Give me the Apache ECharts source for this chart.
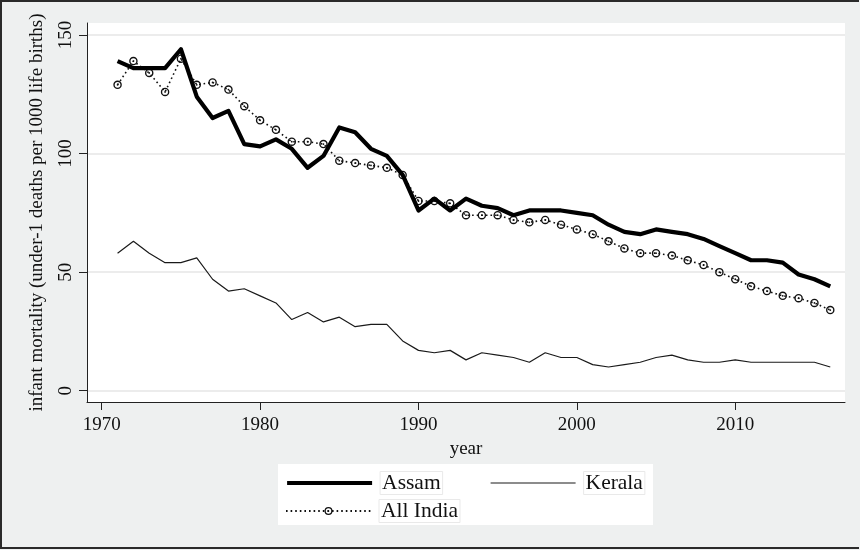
<!DOCTYPE html>
<html>
<head>
<meta charset="utf-8">
<script src="https://cdn.jsdelivr.net/npm/echarts@6/dist/echarts.min.js"></script>
<style>
  html, body { margin: 0; padding: 0; background: #eef0f0; }
  #chart { width: 860px; height: 550px; }
</style>
</head>
<body>
<div id="chart"></div>
<script>
// Infant mortality (deaths under age 1 per 1000 live births), 1971-2016
const years = [1971, 1972, 1973, 1974, 1975, 1976, 1977, 1978, 1979, 1980,
               1981, 1982, 1983, 1984, 1985, 1986, 1987, 1988, 1989, 1990,
               1991, 1992, 1993, 1994, 1995, 1996, 1997, 1998, 1999, 2000,
               2001, 2002, 2003, 2004, 2005, 2006, 2007, 2008, 2009, 2010,
               2011, 2012, 2013, 2014, 2015, 2016];

const assam = [139, 136, 136, 136, 144, 124, 115, 118, 104, 103,
               106, 102, 94, 99, 111, 109, 102, 99, 91, 76,
               81, 76, 81, 78, 77, 74, 76, 76, 76, 75,
               74, 70, 67, 66, 68, 67, 66, 64, 61, 58,
               55, 55, 54, 49, 47, 44];

const kerala = [58, 63, 58, 54, 54, 56, 47, 42, 43, 40,
                37, 30, 33, 29, 31, 27, 28, 28, 21, 17,
                16, 17, 13, 16, 15, 14, 12, 16, 14, 14,
                11, 10, 11, 12, 14, 15, 13, 12, 12, 13,
                12, 12, 12, 12, 12, 10];

const allIndia = [129, 139, 134, 126, 140, 129, 130, 127, 120, 114,
                  110, 105, 105, 104, 97, 96, 95, 94, 91, 80,
                  80, 79, 74, 74, 74, 72, 71, 72, 70, 68,
                  66, 63, 60, 58, 58, 57, 55, 53, 50, 47,
                  44, 42, 40, 39, 37, 34];

const xTicks = [1970, 1980, 1990, 2000, 2010];
const yTicks = [0, 50, 100, 150];

const serif = '"Liberation Serif", "DejaVu Serif", serif';
const pairs = vals => years.map((y, i) => [y, vals[i]]);

// hollow ring with a small centre dot
const ringSymbol = 'path://M10,0 A10,10 0 1,1 10,20 A10,10 0 1,1 10,0 Z ' +
                   'M10,3.2 A6.8,6.8 0 1,0 10,16.8 A6.8,6.8 0 1,0 10,3.2 Z ' +
                   'M10,7.9 A2.1,2.1 0 1,1 10,12.1 A2.1,2.1 0 1,1 10,7.9 Z';

const legendText = {
  fontFamily: serif, fontSize: 21.5, color: '#111',
  rich: {
    g: { width: 3 },
    t: { fontFamily: serif, fontSize: 21.5, color: '#111',
         borderColor: '#e9e9e9', borderWidth: 1, padding: [1, 2, 0, 2] }
  }
};
const hiddenMark = { color: 'rgba(0,0,0,0)', borderColor: 'rgba(0,0,0,0)', borderWidth: 0 };

function legendAt(name, left, top, markStyle, lineStyle) {
  const item = { name: name };
  if (markStyle) item.itemStyle = markStyle;
  const lg = {
    data: [item], left: left, top: top, padding: 0,
    itemWidth: 85, itemHeight: 10, selectedMode: false,
    formatter: n => '{g|}{t|' + n + '}',
    textStyle: legendText
  };
  if (lineStyle) lg.lineStyle = lineStyle;
  return lg;
}

const chart = echarts.init(document.getElementById('chart'), null, { renderer: 'canvas' });

chart.setOption({
  backgroundColor: '#eef0f0',
  animation: false,
  grid: {
    left: 87, top: 23, width: 758, height: 379,
    show: true, backgroundColor: '#ffffff', borderWidth: 0
  },
  xAxis: {
    type: 'value',
    min: 1969.07, max: 2016.93,
    name: 'year', nameLocation: 'middle', nameGap: 34,
    nameTextStyle: { fontFamily: serif, fontSize: 19, color: '#111' },
    axisLine: { show: true, onZero: false, lineStyle: { color: '#222', width: 1 } },
    axisTick: { show: true, length: 8, customValues: xTicks, lineStyle: { color: '#222' } },
    axisLabel: { customValues: xTicks, margin: 14, formatter: v => String(v),
                 fontFamily: serif, fontSize: 19, color: '#111' },
    splitLine: { show: false }
  },
  yAxis: {
    type: 'value',
    min: -4.77, max: 155.06,
    name: 'infant mortality (under-1 deaths per 1000 life births)',
    nameLocation: 'middle', nameRotate: 90, nameGap: 40,
    nameTextStyle: { fontFamily: serif, fontSize: 19, color: '#111' },
    axisLine: { show: true, onZero: false, lineStyle: { color: '#222', width: 1 } },
    axisTick: { show: true, length: 8, customValues: yTicks, lineStyle: { color: '#222' } },
    axisLabel: { customValues: yTicks, rotate: 90, margin: 11, formatter: v => String(v),
                 fontFamily: serif, fontSize: 19, color: '#111' },
    splitLine: { show: true, lineStyle: { color: '#e6e6e6', width: 1.5 } }
  },
  legend: [
    legendAt('Assam', 285, 471, hiddenMark, { width: 4.2, color: '#000' }),
    legendAt('Kerala', 490, 471, hiddenMark, { width: 1.2, color: '#1a1a1a' }),
    legendAt('All India', 285, 499)
  ],
  graphic: [
    { type: 'rect', z: -1, silent: true,
      shape: { x: 278, y: 464, width: 375, height: 61 },
      style: { fill: '#ffffff' } },
    { type: 'polyline', silent: true,
      shape: { points: [[859, 1], [1, 1], [1, 548], [859, 548]] },
      style: { stroke: '#2a2a2a', lineWidth: 2, fill: null } }
  ],
  series: [
    {
      name: 'Kerala', type: 'line', data: pairs(kerala),
      symbol: 'none', lineStyle: { color: '#1a1a1a', width: 1.2 },
      itemStyle: { color: '#1a1a1a' }, z: 2
    },
    {
      name: 'All India', type: 'line', data: pairs(allIndia),
      symbol: ringSymbol, symbolSize: 8.5, showSymbol: true,
      lineStyle: { color: '#111', width: 1.6, type: [1.6, 3] },
      itemStyle: { color: '#111' }, z: 3
    },
    {
      name: 'Assam', type: 'line', data: pairs(assam),
      symbol: 'none', lineStyle: { color: '#000', width: 4.2, join: 'round' },
      itemStyle: { color: '#000' }, z: 4
    }
  ]
});
</script>
</body>
</html>
